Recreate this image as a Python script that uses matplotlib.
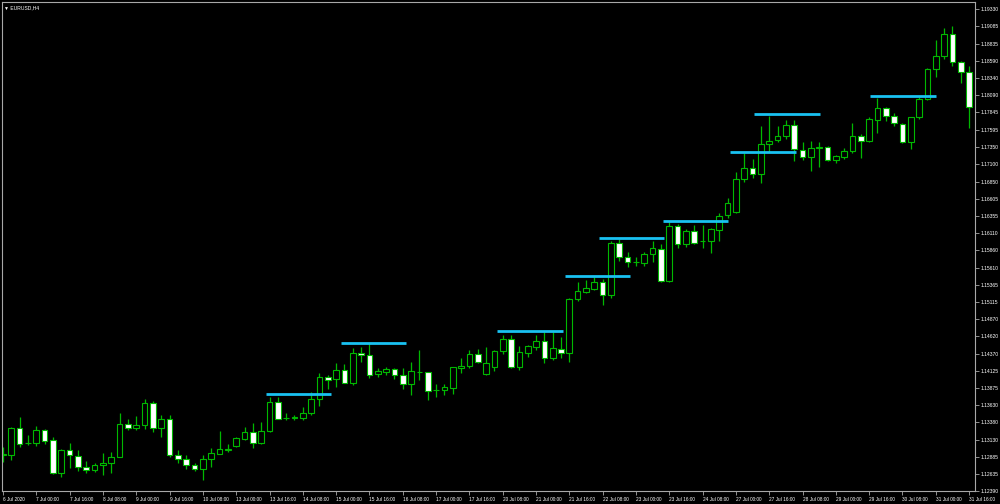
import matplotlib
matplotlib.use('Agg')
import matplotlib.pyplot as plt
import numpy as np

# ---------------- data (EURUSD H4) ----------------
opens = [1.12912, 1.12912, 1.13296, 1.13082, 1.13089, 1.13272, 1.13128, 1.12649, 1.12984, 1.12898,
         1.12735, 1.12692, 1.12768, 1.12793, 1.12883, 1.13363, 1.13296, 1.13340, 1.13656, 1.13301,
         1.13435, 1.12912, 1.12850, 1.12764, 1.12706, 1.12850, 1.12931, 1.12988, 1.13046, 1.13147,
         1.13236, 1.13089, 1.13258, 1.13680, 1.13438, 1.13449, 1.13449, 1.13512, 1.13718, 1.14035,
         1.14002, 1.14136, 1.13953, 1.14376, 1.14352, 1.14078, 1.14112, 1.14150, 1.14068, 1.13934,
         1.14103, 1.14103, 1.13844, 1.13844, 1.13877, 1.14165, 1.14194, 1.14362, 1.14078, 1.14186,
         1.14410, 1.14582, 1.14184, 1.14385, 1.14472, 1.14554, 1.14304, 1.14443, 1.14385, 1.15154,
         1.15264, 1.15302, 1.15399, 1.15220, 1.15969, 1.15768, 1.15687, 1.15681, 1.15802, 1.15883,
         1.15422, 1.16210, 1.15955, 1.16138, 1.15989, 1.15998, 1.16152, 1.16364, 1.16416, 1.16882,
         1.17049, 1.16954, 1.17390, 1.17448, 1.17510, 1.17660, 1.17304, 1.17208, 1.17337, 1.17347,
         1.17160, 1.17208, 1.17294, 1.17510, 1.17434, 1.17736, 1.17909, 1.17794, 1.17683, 1.17419,
         1.17775, 1.18034, 1.18466, 1.18658, 1.18970, 1.18576, 1.18432]
highs = [1.13032, 1.13320, 1.13464, 1.13200, 1.13330, 1.13282, 1.13167, 1.13003, 1.13080, 1.12984,
         1.12830, 1.12801, 1.12945, 1.12955, 1.13521, 1.13426, 1.13474, 1.13714, 1.13685, 1.13484,
         1.13484, 1.12984, 1.12908, 1.12793, 1.12916, 1.13009, 1.13262, 1.13070, 1.13176, 1.13311,
         1.13369, 1.13392, 1.13752, 1.13752, 1.13512, 1.13488, 1.13599, 1.13819, 1.14088, 1.14060,
         1.14232, 1.14218, 1.14449, 1.14472, 1.14529, 1.14161, 1.14184, 1.14169, 1.14161, 1.14251,
         1.14424, 1.14112, 1.13934, 1.13934, 1.14184, 1.14304, 1.14424, 1.14438, 1.14463, 1.14424,
         1.14640, 1.14640, 1.14486, 1.14496, 1.14640, 1.14688, 1.14688, 1.14616, 1.15169, 1.15408,
         1.15432, 1.15480, 1.15442, 1.15998, 1.16022, 1.15831, 1.15759, 1.15840, 1.15994, 1.15946,
         1.16272, 1.16238, 1.16162, 1.16224, 1.16224, 1.16177, 1.16397, 1.16609, 1.16992, 1.17257,
         1.17170, 1.17650, 1.17798, 1.17650, 1.17736, 1.17736, 1.17415, 1.17438, 1.17424, 1.17362,
         1.17232, 1.17337, 1.17697, 1.17534, 1.17775, 1.18057, 1.17928, 1.17841, 1.17697, 1.17786,
         1.18063, 1.18481, 1.18888, 1.19057, 1.19090, 1.18590, 1.18509]
lows = [1.12816, 1.12840, 1.13032, 1.13056, 1.13046, 1.13070, 1.12638, 1.12600, 1.12721, 1.12686,
        1.12657, 1.12672, 1.12624, 1.12657, 1.12879, 1.13272, 1.13272, 1.13282, 1.13248, 1.13167,
        1.12879, 1.12801, 1.12706, 1.12686, 1.12552, 1.12735, 1.12926, 1.12955, 1.13032, 1.13128,
        1.13009, 1.13070, 1.13243, 1.13426, 1.13416, 1.13416, 1.13416, 1.13488, 1.13618, 1.13867,
        1.13896, 1.13945, 1.13916, 1.14256, 1.14021, 1.14031, 1.14068, 1.14002, 1.13858, 1.13780,
        1.13992, 1.13704, 1.13752, 1.13776, 1.13790, 1.14088, 1.14161, 1.14232, 1.14064, 1.14126,
        1.14362, 1.14161, 1.14136, 1.14328, 1.14424, 1.14232, 1.14280, 1.14304, 1.14256, 1.15134,
        1.15241, 1.15288, 1.15072, 1.15169, 1.15710, 1.15624, 1.15638, 1.15638, 1.15696, 1.15408,
        1.15403, 1.15889, 1.15912, 1.15946, 1.15897, 1.15817, 1.15998, 1.16321, 1.16401, 1.16848,
        1.16897, 1.16825, 1.17280, 1.17424, 1.17462, 1.17150, 1.17160, 1.17006, 1.17064, 1.17146,
        1.17121, 1.17170, 1.17257, 1.17185, 1.17424, 1.17545, 1.17722, 1.17650, 1.17405, 1.17314,
        1.17746, 1.18024, 1.18360, 1.18610, 1.18518, 1.18265, 1.17617]
closes = [1.12926, 1.13296, 1.13070, 1.13088, 1.13272, 1.13118, 1.12649, 1.12984, 1.12908, 1.12735,
          1.12696, 1.12768, 1.12793, 1.12888, 1.13363, 1.13305, 1.13340, 1.13656, 1.13301, 1.13435,
          1.12912, 1.12850, 1.12764, 1.12715, 1.12859, 1.12937, 1.13003, 1.13003, 1.13153, 1.13236,
          1.13089, 1.13262, 1.13680, 1.13435, 1.13449, 1.13455, 1.13512, 1.13723, 1.14040, 1.13996,
          1.14136, 1.13953, 1.14376, 1.14348, 1.14068, 1.14126, 1.14150, 1.14068, 1.13934, 1.14123,
          1.14112, 1.13834, 1.13852, 1.13887, 1.14175, 1.14198, 1.14362, 1.14251, 1.14232, 1.14414,
          1.14582, 1.14184, 1.14391, 1.14482, 1.14558, 1.14304, 1.14449, 1.14385, 1.15163, 1.15274,
          1.15313, 1.15399, 1.15220, 1.15969, 1.15768, 1.15691, 1.15696, 1.15811, 1.15889, 1.15422,
          1.16210, 1.15955, 1.16142, 1.15969, 1.15998, 1.16162, 1.16354, 1.16545, 1.16882, 1.17049,
          1.16958, 1.17390, 1.17438, 1.17510, 1.17660, 1.17314, 1.17208, 1.17333, 1.17343, 1.17156,
          1.17213, 1.17294, 1.17501, 1.17438, 1.17746, 1.17909, 1.17798, 1.17689, 1.17415, 1.17775,
          1.18034, 1.18466, 1.18658, 1.18970, 1.18576, 1.18432, 1.17919]

x_labels = ["6 Jul 2020", "7 Jul 00:00", "7 Jul 16:00", "8 Jul 08:00", "9 Jul 00:00",
            "9 Jul 16:00", "10 Jul 08:00", "13 Jul 00:00", "13 Jul 16:00", "14 Jul 08:00",
            "15 Jul 00:00", "15 Jul 16:00", "16 Jul 08:00", "17 Jul 00:00", "17 Jul 16:00",
            "20 Jul 08:00", "21 Jul 00:00", "21 Jul 16:00", "22 Jul 08:00", "23 Jul 00:00",
            "23 Jul 16:00", "24 Jul 08:00", "27 Jul 00:00", "27 Jul 16:00", "28 Jul 08:00",
            "29 Jul 00:00", "29 Jul 16:00", "30 Jul 08:00", "31 Jul 00:00", "31 Jul 16:00"]

y_tick_values = [1.19330, 1.19085, 1.18835, 1.18590, 1.18340, 1.18090, 1.17845, 1.17595,
                 1.17350, 1.17100, 1.16850, 1.16605, 1.16355, 1.16110, 1.15860, 1.15610,
                 1.15365, 1.15115, 1.14870, 1.14620, 1.14370, 1.14125, 1.13875, 1.13630,
                 1.13380, 1.13130, 1.12885, 1.12635, 1.12390]

level_prices = [1.13795, 1.14525, 1.14693, 1.15490, 1.16037, 1.16286, 1.17275, 1.17818, 1.18082]
level_start = [31.55, 40.55, 59.35, 67.5, 71.6, 79.2, 87.3, 90.2, 104.1]
level_end = [39.4, 48.4, 67.2, 75.3, 79.4, 87.1, 95.2, 98.1, 112.0]

# ---------------- drawing ----------------
GREEN = '#00b800'
CYAN = '#19c2f2'
FRAME = '#a8a8a8'
FONT = ['Liberation Sans', 'DejaVu Sans']

fig = plt.figure(figsize=(10, 5.04), dpi=100, facecolor='black')
ax = fig.add_axes([0.002, 1 - 491.25 / 504, 0.973, (491.25 - 2) / 504])
ax.set_facecolor('black')

o = np.array(opens)
h = np.array(highs)
l = np.array(lows)
c = np.array(closes)
x = np.arange(len(o))
bull = c >= o

ax.vlines(x, l, h, color=GREEN, linewidth=0.9, zorder=1)
body_bottom = np.minimum(o, c)
body_height = np.abs(c - o)
faces = ['black' if b else 'white' for b in bull]
ax.bar(x, body_height, bottom=body_bottom, width=0.68, color=faces,
       edgecolor=GREEN, linewidth=0.8, zorder=2)

ax.hlines(level_prices, level_start, level_end, color=CYAN, linewidth=2.0, zorder=3)

ax.set_xlim(-0.12, 116.71)
ax.set_ylim(1.12390, 1.19435)

ax.yaxis.tick_right()
ax.set_yticks(y_tick_values)
ax.set_yticklabels([f"{v:.5f}" for v in y_tick_values], fontfamily=FONT)
ax.tick_params(axis='y', direction='out', length=3, width=0.6, colors=FRAME,
               labelcolor='white', labelsize=3.6, pad=1.2)

xt = list(range(0, len(o), 4))
ax.set_xticks(xt)
ax.set_xticklabels(x_labels, fontfamily=FONT)
for lab in ax.get_xticklabels():
    lab.set_ha('left')
ax.tick_params(axis='x', direction='out', length=3, width=0.6, colors=FRAME,
               labelcolor='white', labelsize=3.4, pad=1.0)

for sp in ax.spines.values():
    sp.set_color(FRAME)
    sp.set_linewidth(0.8)

fig.text(0.004, 1 - 7.5 / 504, '\u25bc EURUSD,H4', color='white', fontsize=3.6,
         va='center', ha='left', family=FONT)

fig.savefig('out.png', dpi=100, facecolor='black')
